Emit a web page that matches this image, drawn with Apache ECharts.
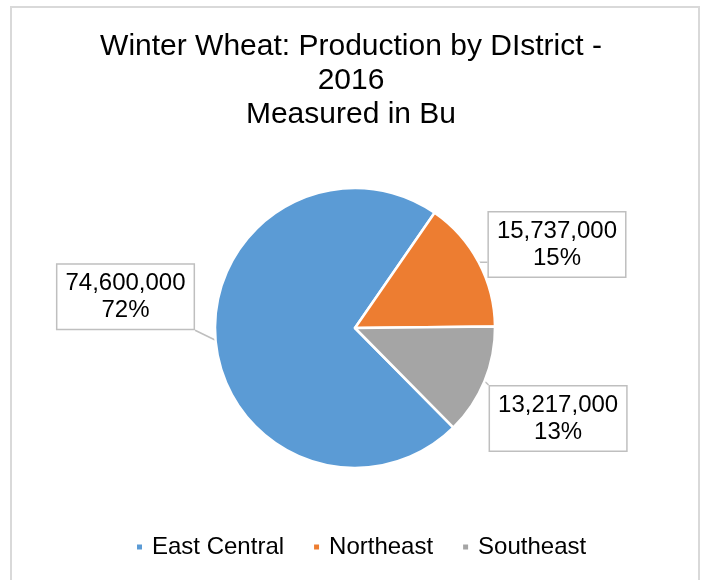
<!DOCTYPE html>
<html>
<head>
<meta charset="utf-8">
<script src="https://cdn.jsdelivr.net/npm/echarts@6/dist/echarts.min.js"></script>
<style>
html,body{margin:0;padding:0;background:#fff;}
#chart{width:702px;height:580px;}
</style>
</head>
<body>
<div id="chart"></div>
<script>
const categories = ['East Central', 'Northeast', 'Southeast'];
const values = [74600000, 15737000, 13217000];
const colors = ['#5B9BD5', '#ED7D31', '#A5A5A5'];
const titleText = 'Winter Wheat: Production by DIstrict -\n2016\nMeasured in Bu';
const labelDx = [-11, 0, -5];
const labelDy = [-44, -15, 35];

const FONT = '"Liberation Sans", Arial, sans-serif';
const chart = echarts.init(document.getElementById('chart'), null, {renderer: 'canvas'});

const fmt = v => v.toLocaleString('en-US');

chart.setOption({
  animation: false,
  backgroundColor: '#fff',
  color: colors,
  graphic: [{
    type: 'rect',
    shape: {x: 11, y: 7, width: 688, height: 600},
    style: {fill: 'none', stroke: '#d9d9d9', lineWidth: 2},
    silent: true
  }],
  title: {
    text: titleText,
    left: 'center',
    top: 30,
    padding: 0,
    textStyle: {fontFamily: FONT, fontSize: 30, lineHeight: 34, fontWeight: 'normal', color: '#000'}
  },
  legend: {
    data: categories,
    top: 530,
    left: 130,
    icon: 'rect',
    itemWidth: 7,
    itemHeight: 7,
    itemGap: 28,
    textStyle: {fontFamily: FONT, fontSize: 24, lineHeight: 24, color: '#000', padding: [0, 0, 0, 4]}
  },
  series: [{
    type: 'pie',
    center: [355, 328],
    radius: 140,
    startAngle: 314.7,
    clockwise: true,
    avoidLabelOverlap: false,
    itemStyle: {borderColor: '#fff', borderWidth: 2.5},
    data: categories.map((c, i) => ({name: c, value: values[i]})),
    label: {
      show: true,
      position: 'outside',
      formatter: p => '{a|' + fmt(p.value) + '}\n{a|' + Math.round(p.percent) + '%}',
      backgroundColor: '#fff',
      borderColor: '#bfbfbf',
      borderWidth: 1.5,
      padding: [5, 8, 5, 8],
      distanceToLabelLine: 5,
      rich: {
        a: {fontFamily: FONT, fontSize: 24, lineHeight: 27, align: 'center', color: '#000'}
      }
    },
    labelLine: {show: true, length: 6, length2: 0, smooth: false, lineStyle: {color: '#bfbfbf', width: 1.5}},
    labelLayout: function (params) {
      const i = params.dataIndex;
      const dx = labelDx[i], dy = labelDy[i];
      const r = params.labelRect;
      const out = {dx: dx, dy: dy};
      const pts = params.labelLinePoints;
      if (pts && pts.length) {
        const p0 = pts[0];
        const x0 = r.x + dx, y0 = r.y + dy;
        const nx = Math.min(Math.max(p0[0], x0), x0 + r.width);
        const ny = Math.min(Math.max(p0[1], y0), y0 + r.height);
        out.labelLinePoints = [p0, [(p0[0] + nx) / 2, (p0[1] + ny) / 2], [nx, ny]];
      }
      return out;
    },
    emphasis: {disabled: true}
  }]
});
</script>
</body>
</html>
